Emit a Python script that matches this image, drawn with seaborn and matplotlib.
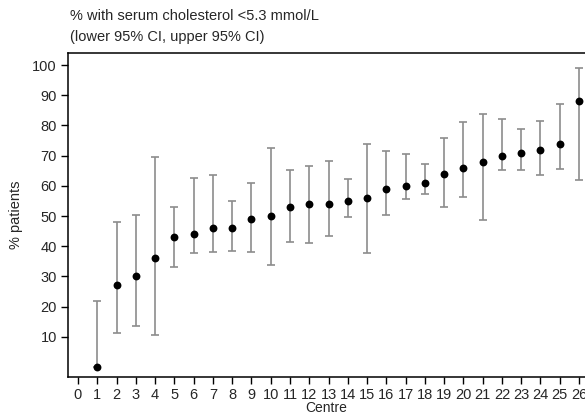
import matplotlib
matplotlib.use("Agg")
import matplotlib.pyplot as plt
import seaborn as sns
import pandas as pd

# Percentage of patients with serum cholesterol < 5.3 mmol/L, by centre
centres = list(range(1, 27))
pct = [0, 27, 30, 36, 43, 44, 46, 46, 49, 50, 53, 54, 54, 55, 56,
       59, 60, 61, 64, 66, 68, 70, 71, 72, 74, 88]
ci_lower = [0, 11.3, 13.5, 10.7, 33.2, 37.6, 38.2, 38.4, 38.2, 33.9, 41.5, 41.1, 43.5,
            49.8, 37.7, 50.4, 55.5, 57.3, 53.1, 56.4, 48.7, 65.1, 65.2, 63.6, 65.7, 61.9]
ci_upper = [21.7, 47.9, 50.4, 69.4, 53.1, 62.7, 63.6, 54.9, 61.0, 72.7, 65.2, 66.6, 68.2,
            62.2, 73.9, 71.5, 70.6, 67.4, 75.9, 81.2, 83.8, 82.1, 78.8, 81.4, 87.2, 98.9]
x_ticks = list(range(0, 27))
y_ticks = list(range(10, 101, 10))

df = pd.DataFrame({"centre": centres, "pct": pct, "lo": ci_lower, "hi": ci_upper})

sns.set_theme(style="white")
plt.rcParams["font.family"] = ["Liberation Sans", "DejaVu Sans"]

fig = plt.figure(figsize=(5.85, 4.16), dpi=100)
ax = fig.add_axes([0.1162, 0.0938, 0.8838, 0.7788])

ax.errorbar(df["centre"], df["pct"],
            yerr=[df["pct"] - df["lo"], df["hi"] - df["pct"]],
            fmt="none", ecolor="#8c8c8c", elinewidth=1.2, capsize=2.8, capthick=1.2, zorder=2)
sns.scatterplot(data=df, x="centre", y="pct", ax=ax, color="black", s=32,
                edgecolor="black", linewidth=0, zorder=3)

ax.set_xlim(-0.52, 26.31)
ax.set_ylim(-3.3, 104)
ax.set_xticks(x_ticks)
ax.set_yticks(y_ticks)
ax.tick_params(axis="both", which="major", direction="out", length=5, width=1,
               color="black", labelsize=10.5, pad=3, bottom=True, left=True)

for side in ("left", "bottom", "top"):
    ax.spines[side].set_visible(True)
    ax.spines[side].set_color("black")
    ax.spines[side].set_linewidth(1.1)
ax.spines["right"].set_visible(False)

ax.set_xlabel("Centre", fontsize=10, labelpad=-0.5)
ax.set_ylabel("% patients", fontsize=10.5, labelpad=7)

fig.text(0.1197, 0.951, "% with serum cholesterol <5.3 mmol/L", fontsize=10.5, va="baseline")
fig.text(0.1197, 0.901, "(lower 95% CI, upper 95% CI)", fontsize=10.5, va="baseline")

fig.savefig("out.png", dpi=100)
